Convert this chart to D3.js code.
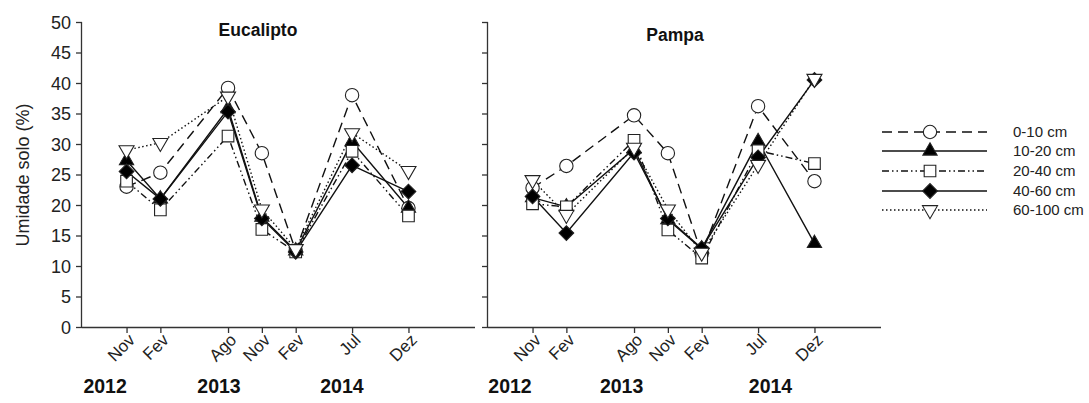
<!DOCTYPE html>
<html>
<head>
<meta charset="utf-8">
<script src="https://cdn.jsdelivr.net/npm/d3@7"></script>
<style>
  html, body { margin: 0; padding: 0; background: #fff; }
  svg text { font-family: "Liberation Sans", Arial, sans-serif; fill: #111; }
</style>
</head>
<body>
<svg id="chart" width="1089" height="403"></svg>
<script>
// Sampling dates, as months counted from Nov 2012
const sampleMonths = [0, 3, 9, 12, 15, 20, 25];
const sampleLabels = ["Nov", "Fev", "Ago", "Nov", "Fev", "Jul", "Dez"];
const yearLabels = ["2012", "2013", "2014"];
const depths = ["0-10 cm", "10-20 cm", "20-40 cm", "40-60 cm", "60-100 cm"];
const yTicks = [0, 5, 10, 15, 20, 25, 30, 35, 40, 45, 50];

// Soil moisture (%) per depth layer, Eucalipto site
const eucalipto0_10   = [23.0, 25.3, 39.2, 28.5, 12.5, 38.0, 19.5];
const eucalipto10_20  = [27.3, 21.0, 35.8, 18.0, 12.5, 30.4, 19.5];
const eucalipto20_40  = [23.9, 19.2, 31.3, 16.0, 12.3, 28.8, 18.2];
const eucalipto40_60  = [25.5, 21.0, 35.3, 17.8, 12.3, 26.5, 22.2];
const eucalipto60_100 = [29.0, 30.2, 37.8, 19.3, 12.8, 31.8, 25.6];

// Soil moisture (%) per depth layer, Pampa site
const pampa0_10   = [22.8, 26.4, 34.7, 28.5, 12.0, 36.2, 23.9];
const pampa10_20  = [21.2, 19.7, 29.2, 17.6, 12.8, 30.4, 13.7];
const pampa20_40  = [20.2, 19.7, 30.6, 15.9, 11.3, 28.9, 26.8];
const pampa40_60  = [21.4, 15.4, 28.6, 17.8, 12.9, 27.8, 40.5];
const pampa60_100 = [24.1, 18.4, 29.4, 19.3, 12.2, 26.6, 40.7];

const panels = [
  { title: "Eucalipto", series: [eucalipto0_10, eucalipto10_20, eucalipto20_40, eucalipto40_60, eucalipto60_100],
    x0: 82, titleX: 258, titleY: 36, yearAt: [-1.9, 8.2, 19.1], yLabels: true },
  { title: "Pampa", series: [pampa0_10, pampa10_20, pampa20_40, pampa40_60, pampa60_100],
    x0: 488, titleX: 675, titleY: 41, yearAt: [-2.0, 7.9, 21.1], yLabels: false }
];

// Line and marker style per depth layer
const styles = [
  { dash: "10,6",              symbol: d3.symbolCircle,   fill: "#fff", size: 140, rot: 0 },
  { dash: null,                symbol: d3.symbolTriangle, fill: "#000", size: 88,  rot: 0 },
  { dash: "7,3,1.5,3,1.5,3",   symbol: d3.symbolSquare,   fill: "#fff", size: 135, rot: 0 },
  { dash: null,                symbol: d3.symbolSquare,   fill: "#000", size: 108, rot: 45 },
  { dash: "1.5,2.5",           symbol: d3.symbolTriangle, fill: "#fff", size: 98,  rot: 180 }
];

const svg = d3.select("#chart");
const panelWidth = 393;
const y = d3.scaleLinear().domain([0, 50]).range([327, 22]);

panels.forEach(p => {
  const x = d3.scaleLinear().domain([-3.95, 30.9]).range([p.x0, p.x0 + panelWidth]);
  const g = svg.append("g");

  // y axis
  const yAxis = d3.axisLeft(y).tickValues(yTicks).tickSize(6).tickPadding(5)
    .tickFormat(p.yLabels ? d3.format("d") : () => "");
  const ya = g.append("g").attr("transform", `translate(${p.x0},0)`).call(yAxis);
  ya.select(".domain").attr("d", `M-0.5,22V327.5`);
  ya.selectAll("text").style("font-size", "18px").attr("dy", "0.35em").style("fill", "#222");

  // x axis
  const xAxis = d3.axisBottom(x).tickValues(sampleMonths).tickSize(6).tickFormat((d, i) => sampleLabels[i]);
  const xa = g.append("g").attr("transform", "translate(0,327)").call(xAxis);
  xa.select(".domain").attr("d", `M${p.x0},0.5H${p.x0 + panelWidth}`);
  xa.selectAll("text")
    .style("font-size", "17px")
    .style("fill", "#222")
    .attr("text-anchor", "end")
    .attr("y", 0).attr("dy", 0)
    .attr("transform", "translate(9,14) rotate(-45)");
  g.selectAll(".domain, .tick line").attr("stroke", "#333").attr("stroke-width", 1.3);

  // year labels
  g.selectAll("text.year").data(yearLabels).join("text")
    .attr("class", "year")
    .attr("x", (d, i) => x(p.yearAt[i]))
    .attr("y", 393)
    .attr("text-anchor", "middle")
    .style("font-size", "19.5px").style("font-weight", "bold")
    .text(d => d);

  // panel title
  g.append("text").attr("x", p.titleX).attr("y", p.titleY)
    .attr("text-anchor", "middle")
    .style("font-size", "17.5px").style("font-weight", "bold")
    .text(p.title);

  const line = d3.line().x((d, i) => x(sampleMonths[i])).y(d => y(d));

  p.series.forEach((vals, k) => {
    const s = styles[k];
    g.append("path").datum(vals)
      .attr("d", line)
      .attr("fill", "none")
      .attr("stroke", "#111")
      .attr("stroke-width", 1.4)
      .attr("stroke-dasharray", s.dash);
  });
  p.series.forEach((vals, k) => {
    const s = styles[k];
    const sym = d3.symbol().type(s.symbol).size(s.size);
    g.selectAll(null).data(vals).join("path")
      .attr("d", sym)
      .attr("transform", (d, i) => `translate(${x(sampleMonths[i])},${y(d)}) rotate(${s.rot})`)
      .attr("fill", s.fill)
      .attr("stroke", "#222")
      .attr("stroke-width", 1.1);
  });
});

// legend
const leg = svg.append("g");
const legRows = [132, 151, 171, 191, 210];
depths.forEach((name, k) => {
  const s = styles[k];
  const ly = legRows[k];
  leg.append("line").attr("x1", 882).attr("x2", 987).attr("y1", ly).attr("y2", ly)
    .attr("stroke", "#111").attr("stroke-width", 1.4).attr("stroke-dasharray", s.dash);
  leg.append("path").attr("d", d3.symbol().type(s.symbol).size(s.size))
    .attr("transform", `translate(930,${ly}) rotate(${s.rot})`)
    .attr("fill", s.fill).attr("stroke", "#222").attr("stroke-width", 1.1);
  leg.append("text").attr("x", 1013).attr("y", ly).attr("dy", "0.35em")
    .style("font-size", "15px").style("fill", "#222").text(name);
});

// y axis title
svg.append("text")
  .attr("transform", "translate(29,175) rotate(-90)")
  .attr("text-anchor", "middle")
  .style("font-size", "18px")
  .style("fill", "#222")
  .text("Umidade solo (%)");
</script>
</body>
</html>
